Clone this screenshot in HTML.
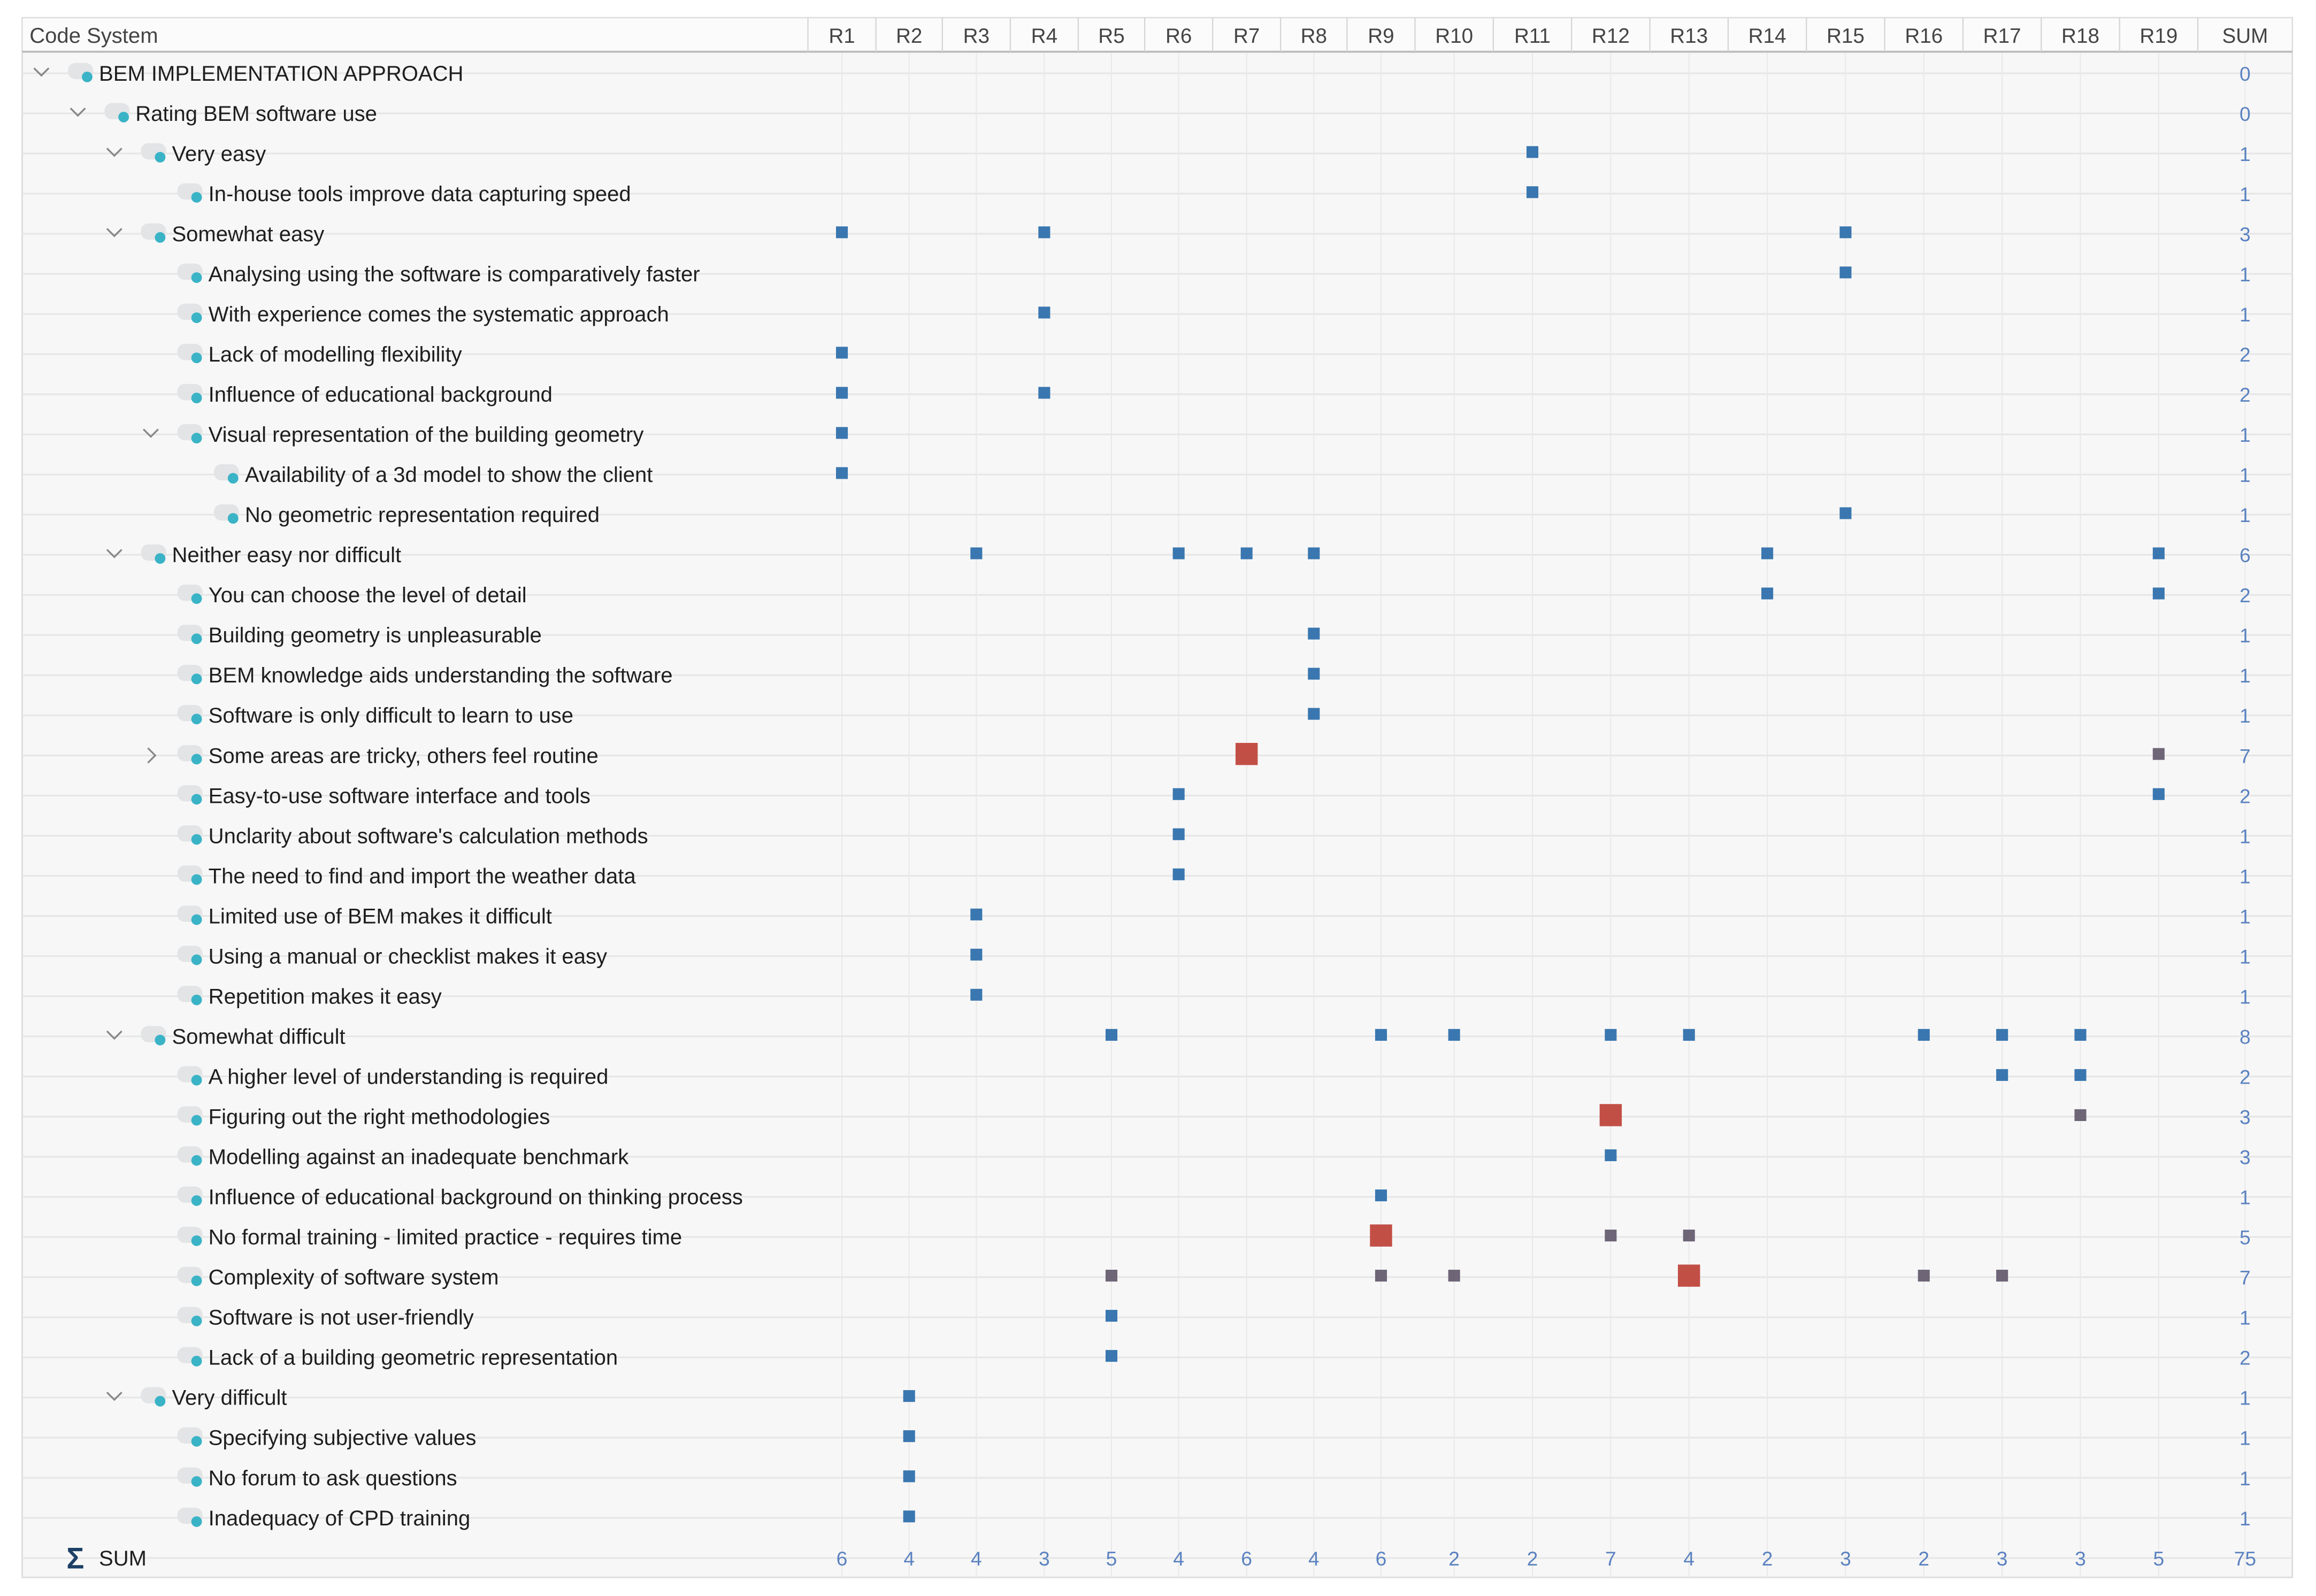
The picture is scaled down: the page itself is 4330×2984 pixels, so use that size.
<!DOCTYPE html>
<html><head><meta charset="utf-8"><style>
html,body{margin:0;padding:0;background:#fff;}
svg{display:block;}
text{font-family:"Liberation Sans",sans-serif;}
</style></head><body>
<svg id="chart" xmlns="http://www.w3.org/2000/svg" width="4330" height="2984" viewBox="0 0 1568 1080.6">
<rect x="0" y="0" width="1568" height="1081" fill="#ffffff"/>
<rect x="15" y="12" width="1537" height="1056" fill="#f7f7f7" stroke="#dcdcdc" stroke-width="1"/>
<g id="grid"></g>
<g id="header"></g>
<g id="rows"></g>
<g id="marks"></g>
</svg>
<script>
const columns = ["R1","R2","R3","R4","R5","R6","R7","R8","R9","R10","R11","R12","R13","R14","R15","R16","R17","R18","R19"];
const codeLabels = ["BEM IMPLEMENTATION APPROACH","Rating BEM software use","Very easy","In-house tools improve data capturing speed","Somewhat easy","Analysing using the software is comparatively faster","With experience comes the systematic approach","Lack of modelling flexibility","Influence of educational background","Visual representation of the building geometry","Availability of a 3d model to show the client","No geometric representation required","Neither easy nor difficult","You can choose the level of detail","Building geometry is unpleasurable","BEM knowledge aids understanding the software","Software is only difficult to learn to use","Some areas are tricky, others feel routine","Easy-to-use software interface and tools","Unclarity about software's calculation methods","The need to find and import the weather data","Limited use of BEM makes it difficult","Using a manual or checklist makes it easy","Repetition makes it easy","Somewhat difficult","A higher level of understanding is required","Figuring out the right methodologies","Modelling against an inadequate benchmark","Influence of educational background on thinking process","No formal training - limited practice - requires time","Complexity of software system","Software is not user-friendly","Lack of a building geometric representation","Very difficult","Specifying subjective values","No forum to ask questions","Inadequacy of CPD training"];
const codeLevels = [0,1,2,3,2,3,3,3,3,3,4,4,2,3,3,3,3,3,3,3,3,3,3,3,2,3,3,3,3,3,3,3,3,2,3,3,3];
const expander = ["v","v","v","","v","","","","","v","","","v","","","","","›","","","","","","","v","","","","","","","","","v","","",""];
// cell values: [columnIndex(1-based), weight] ; weight 1 = small blue, 2 = grey, 3 = large red
const cellValues = [
 [],[],[[11,1]],[[11,1]],[[1,1],[4,1],[15,1]],[[15,1]],[[4,1]],[[1,1]],[[1,1],[4,1]],[[1,1]],[[1,1]],[[15,1]],
 [[3,1],[6,1],[7,1],[8,1],[14,1],[19,1]],[[14,1],[19,1]],[[8,1]],[[8,1]],[[8,1]],[[7,3],[19,2]],[[6,1],[19,1]],[[6,1]],[[6,1]],[[3,1]],[[3,1]],[[3,1]],
 [[5,1],[9,1],[10,1],[12,1],[13,1],[16,1],[17,1],[18,1]],[[17,1],[18,1]],[[12,3],[18,2]],[[12,1]],[[9,1]],[[9,3],[12,2],[13,2]],
 [[5,2],[9,2],[10,2],[13,3],[16,2],[17,2]],[[5,1]],[[5,1]],[[2,1]],[[2,1]],[[2,1]],[[2,1]]
];
const rowSums = [0,0,1,1,3,1,1,2,2,1,1,1,6,2,1,1,1,7,2,1,1,1,1,1,8,2,3,3,1,5,7,1,2,1,1,1,1];
const colSums = [6,4,4,3,5,4,6,4,6,2,2,7,4,2,3,2,3,3,5];
const totalSum = 75;

const NS="http://www.w3.org/2000/svg";
const colEdges=[547,593,638,684,730,775,821,867,912,958,1011,1064,1117,1170,1223,1276,1329,1382,1435,1488,1552];
function xCol(i){return (colEdges[i]+colEdges[i+1])/2;}
function yRow(r){return 49.6+r*27.17;}
function mk(tag,attrs,parent){const e=document.createElementNS(NS,tag);for(const k in attrs)e.setAttribute(k,attrs[k]);parent.appendChild(e);return e;}
const grid=document.getElementById('grid'),header=document.getElementById('header'),rows=document.getElementById('rows'),marks=document.getElementById('marks');

// horizontal row lines
for(let r=0;r<=codeLabels.length;r++){
  const l=mk('line',{x1:15,x2:1552,y1:yRow(r),y2:yRow(r),stroke:'#e6e6e6','stroke-width':1.1},grid);
  
  
}
// vertical lines
for(let c=0;c<=columns.length;c++){
  const l=mk('line',{x1:xCol(c),x2:xCol(c),y1:36,y2:1068,stroke:'#e8e8e8','stroke-width':0.7},grid);
  
  
}
// header
const hb=mk('rect',{x:15,y:12,width:1537,height:23,fill:'#fbfbfb',stroke:'#dcdcdc','stroke-width':0.8},header);


mk('line',{x1:15,x2:1552,y1:35,y2:35,stroke:'#bdbdbd','stroke-width':1.4},header);
const hc=mk('text',{x:20,y:29,'font-size':14.5,fill:'#444'},header);hc.textContent='Code System';


for(let c=0;c<=columns.length;c++){
  mk('line',{x1:colEdges[c],x2:colEdges[c],y1:12,y2:35,stroke:'#d4d4d4','stroke-width':0.8},header);
  const t=mk('text',{x:xCol(c),y:29,'font-size':14,fill:'#444','text-anchor':'middle'},header);
  t.textContent=c<columns.length?columns[c]:'SUM';
  
  
}
// rows
codeLabels.forEach((lab,r)=>{
  const lv=codeLevels[r],y=yRow(r),base=28+lv*24.7;
  const g=mk('g',{},rows);
  
  
  if(expander[r]==='v'){
    const p=mk('path',{d:`M${base-5} ${y-3.5} L${base} ${y+1.5} L${base+5} ${y-3.5}`,fill:'none',stroke:'#888','stroke-width':1.2},g);
    
    
  } else if(expander[r]==='›'){
    const p=mk('path',{d:`M${base-2} ${y-5} L${base+3} ${y} L${base-2} ${y+5}`,fill:'none',stroke:'#888','stroke-width':1.2},g);
    
    
  }
  const ix=base+18;
  const ic=mk('rect',{x:ix,y:y-7,width:17,height:11,rx:5,fill:'#e2e4e6'},g);
  
  
  mk('circle',{cx:ix+13,cy:y+2.5,r:3.6,fill:'#3ab3c6'},g);
  const t=mk('text',{x:base+39,y:y+5,'font-size':14.5,fill:'#1e1e1e'},g);
  t.textContent=lab;
  const s=mk('text',{x:xCol(columns.length),y:y+5,'font-size':13.5,fill:'#5a82c0','text-anchor':'middle'},g);
  s.textContent=rowSums[r];
  
  
});
// marks
cellValues.forEach((cells,r)=>{
  cells.forEach(([c,w])=>{
    const sz=w>=3?15:8, col=w>=3?'#c24f46':(w===2?'#6e6577':'#3a77b0');
    const m=mk('rect',{x:xCol(c-1)-sz/2,y:yRow(r)-sz/2-1,width:sz,height:sz,fill:col},marks);
    
    
  });
});
// sum row
const sr=yRow(codeLabels.length);
const sig=mk('text',{x:45,y:sr+7,'font-size':20,'font-weight':'bold',fill:'#1d3f66'},rows);sig.textContent='Σ';


const st=mk('text',{x:67,y:sr+5,'font-size':14.5,fill:'#1e1e1e'},rows);st.textContent='SUM';


colSums.forEach((v,c)=>{
  const t=mk('text',{x:xCol(c),y:sr+5,'font-size':13.5,fill:'#5a82c0','text-anchor':'middle'},rows);
  t.textContent=v;
  
  
});
const tt=mk('text',{x:xCol(columns.length),y:sr+5,'font-size':13.5,fill:'#5a82c0','text-anchor':'middle'},rows);tt.textContent=totalSum;


</script>
</body></html>
